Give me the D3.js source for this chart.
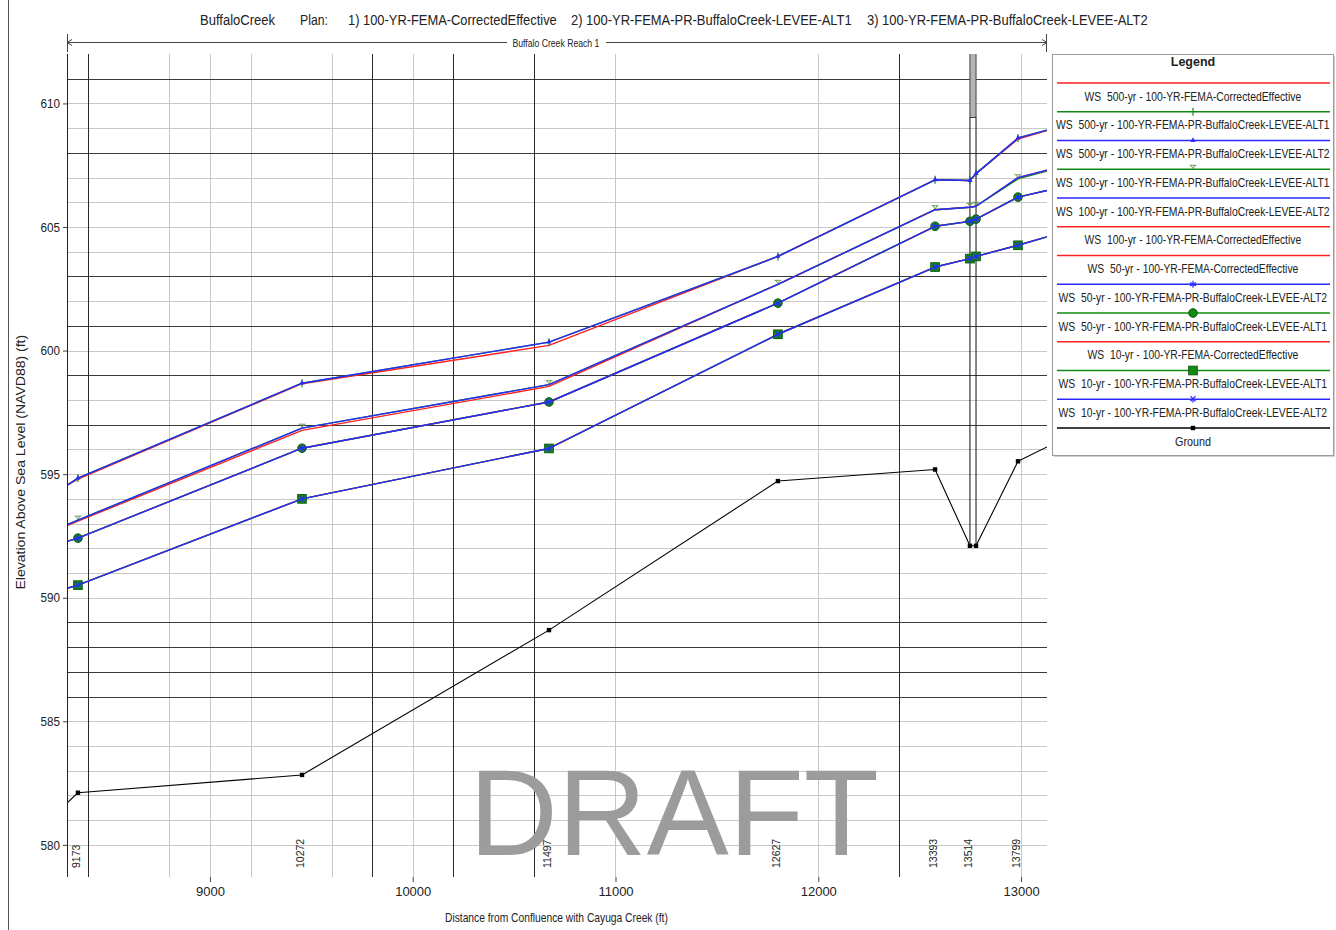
<!DOCTYPE html>
<html><head><meta charset="utf-8">
<script src="https://cdn.jsdelivr.net/npm/d3@7"></script>
<style>
html,body{margin:0;padding:0;background:#fff;}
svg{display:block;font-family:"Liberation Sans",Arial,sans-serif;}
text{white-space:pre;}
</style></head><body>
<svg id="chart" width="1336" height="930"></svg>
<script>
// ---- reach geometry: distance from confluence (ft) for every profile point
// first and last entries are where the reach leaves the plotted window
const profileDist = [8295, 8349, 9454, 10672, 11801, 12576, 12748, 12778, 12985, 13128];
const markedPoints = [1, 2, 3, 4, 5, 6, 7, 8];          // indices that are surveyed cross sections
const stationLabels = ["9173", "10272", "11497", "12627", "13393", "13514", "13799"];
const stationLabelDist = [8349, 9454, 10672, 11801, 12576, 12748, 12985];

// ---- water surface elevations (ft NAVD88)
const ws500Eff  = [594.55, 594.80, 598.66, 600.21, 603.81, 606.91, 606.88, 607.16, 608.56, 608.90];
const ws500Alt1 = [594.55, 594.84, 598.68, 600.34, 603.81, 606.91, 606.88, 607.16, 608.60, 608.92];
const ws500Alt2 = [594.55, 594.84, 598.68, 600.34, 603.81, 606.91, 606.88, 607.16, 608.60, 608.92];
const ws100Eff  = [592.92, 593.10, 596.77, 598.55, 602.68, 605.70, 605.80, 605.84, 607.00, 607.30];
const ws100Alt1 = [592.95, 593.14, 596.86, 598.62, 602.68, 605.70, 605.80, 605.84, 606.95, 607.26];
const ws100Alt2 = [592.95, 593.14, 596.86, 598.62, 602.68, 605.70, 605.80, 605.84, 607.00, 607.30];
const ws50Eff   = [592.28, 592.41, 596.05, 597.92, 601.92, 605.03, 605.23, 605.32, 606.21, 606.48];
const ws50Alt1  = [592.28, 592.41, 596.05, 597.92, 601.92, 605.03, 605.23, 605.32, 606.21, 606.48];
const ws50Alt2  = [592.28, 592.41, 596.05, 597.92, 601.92, 605.03, 605.23, 605.32, 606.21, 606.48];
const ws10Eff   = [590.38, 590.51, 594.00, 596.04, 600.66, 603.38, 603.72, 603.81, 604.26, 604.60];
const ws10Alt1  = [590.38, 590.51, 594.00, 596.04, 600.66, 603.38, 603.72, 603.81, 604.26, 604.60];
const ws10Alt2  = [590.38, 590.51, 594.00, 596.04, 600.66, 603.38, 603.72, 603.81, 604.26, 604.60];
const ground    = [581.69, 582.11, 582.83, 588.69, 594.72, 595.19, 592.10, 592.10, 595.52, 596.10];

// ---- bridge at RS 13514 (two faces), low chord / top of deck
const bridgeFaces = [12748, 12778];
const bridgeLowChord = 609.43;
const bridgeTopDeck = 612.5;

// ---- axes
const xTicks = [9000, 10000, 11000, 12000, 13000];
const yTicks = [580, 585, 590, 595, 600, 605, 610];
const gridElev = d3.range(580, 612);                       // 1-ft grid
const gridElevDark = [611, 608, 603, 601, 599, 597, 589, 588, 587, 586];
const gridDist = [8800, 9000, 9200, 9600, 10000, 11000, 12000, 13000];
const gridDistDark = [8400, 9800, 10200, 10600, 12400];

const planTitles = ["BuffaloCreek", "Plan:", "1) 100-YR-FEMA-CorrectedEffective",
  "2) 100-YR-FEMA-PR-BuffaloCreek-LEVEE-ALT1", "3) 100-YR-FEMA-PR-BuffaloCreek-LEVEE-ALT2"];

// series table (draw order: ground, effective, ALT1, ALT2)
const RED = "#ff2020", GREEN = "#128a12", BLUE = "#2a2aff";
const series = [
  {key:"e500", name:"WS  500-yr - 100-YR-FEMA-CorrectedEffective", values:ws500Eff, color:RED, marker:null},
  {key:"e100", name:"WS  100-yr - 100-YR-FEMA-CorrectedEffective", values:ws100Eff, color:RED, marker:null},
  {key:"e50",  name:"WS  50-yr - 100-YR-FEMA-CorrectedEffective", values:ws50Eff, color:RED, marker:null},
  {key:"e10",  name:"WS  10-yr - 100-YR-FEMA-CorrectedEffective", values:ws10Eff, color:RED, marker:null},
  {key:"a500", name:"WS  500-yr - 100-YR-FEMA-PR-BuffaloCreek-LEVEE-ALT1", values:ws500Alt1, color:GREEN, marker:"vtick"},
  {key:"a100", name:"WS  100-yr - 100-YR-FEMA-PR-BuffaloCreek-LEVEE-ALT1", values:ws100Alt1, color:GREEN, marker:"barv"},
  {key:"a50",  name:"WS  50-yr - 100-YR-FEMA-PR-BuffaloCreek-LEVEE-ALT1", values:ws50Alt1, color:GREEN, marker:"circle"},
  {key:"a10",  name:"WS  10-yr - 100-YR-FEMA-PR-BuffaloCreek-LEVEE-ALT1", values:ws10Alt1, color:GREEN, marker:"square"},
  {key:"b500", name:"WS  500-yr - 100-YR-FEMA-PR-BuffaloCreek-LEVEE-ALT2", values:ws500Alt2, color:BLUE, marker:"tri"},
  {key:"b100", name:"WS  100-yr - 100-YR-FEMA-PR-BuffaloCreek-LEVEE-ALT2", values:ws100Alt2, color:BLUE, marker:null},
  {key:"b50",  name:"WS  50-yr - 100-YR-FEMA-PR-BuffaloCreek-LEVEE-ALT2", values:ws50Alt2, color:BLUE, marker:"star"},
  {key:"b10",  name:"WS  10-yr - 100-YR-FEMA-PR-BuffaloCreek-LEVEE-ALT2", values:ws10Alt2, color:BLUE, marker:"xmark"},
  {key:"gr",   name:"Ground", values:ground, color:"#000", marker:"gsq"}
];
const legendOrder = ["e500","a500","b500","a100","b100","e100","e50","b50","a50","e10","a10","b10","gr"];

// ---- layout
const W = 1336, H = 930;
const P = {left:67, right:1047, top:54, bottom:877};
const svg = d3.select("#chart");
const x = d3.scaleLinear().domain([8295, 13128]).range([P.left, P.right]);
const y = d3.scaleLinear().domain([578.7, 612]).range([P.bottom, P.top]);

// places a text with its own horizontal squeeze so it spans `width` px
function fitText(parent, str, px, py, width, size, anchor, rot) {
  const g = parent.append("g");
  const t = g.append("text").attr("font-size", size).attr("fill", "#222").text(str);
  const natural = t.node().getComputedTextLength();
  const s = width / natural;
  const off = anchor === "middle" ? -width / 2 : 0;
  g.attr("transform", `translate(${px},${py})` + (rot ? ` rotate(${rot})` : "") + ` translate(${off},0) scale(${s},1)`);
  return t;
}

svg.append("rect").attr("width", W).attr("height", H).attr("fill", "#fff");
// page frame at left
svg.append("line").attr("x1", 8.5).attr("x2", 8.5).attr("y1", 0).attr("y2", H)
  .attr("stroke", "#555").attr("stroke-width", 1);

svg.append("clipPath").attr("id", "plotclip").append("rect")
  .attr("x", P.left).attr("y", P.top).attr("width", P.right - P.left).attr("height", P.bottom - P.top);

// grid
const grid = svg.append("g");
grid.selectAll(".hg").data(gridElev.filter(e => !gridElevDark.includes(e))).join("line")
  .attr("x1", P.left).attr("x2", P.right).attr("y1", d => Math.round(y(d)) + 0.5).attr("y2", d => Math.round(y(d)) + 0.5)
  .attr("stroke", "#c8c8c8").attr("stroke-width", 1);
grid.selectAll(".vg").data(gridDist).join("line")
  .attr("y1", P.top).attr("y2", P.bottom).attr("x1", d => Math.round(x(d)) + 0.5).attr("x2", d => Math.round(x(d)) + 0.5)
  .attr("stroke", "#c8c8c8").attr("stroke-width", 1);
grid.selectAll(".hgd").data(gridElevDark).join("line")
  .attr("x1", P.left).attr("x2", P.right).attr("y1", d => Math.round(y(d)) + 0.5).attr("y2", d => Math.round(y(d)) + 0.5)
  .attr("stroke", "#3a3a3a").attr("stroke-width", 1);
grid.selectAll(".vgd").data(gridDistDark).join("line")
  .attr("y1", P.top).attr("y2", P.bottom).attr("x1", d => Math.round(x(d)) + 0.5).attr("x2", d => Math.round(x(d)) + 0.5)
  .attr("stroke", "#2a2a2a").attr("stroke-width", 1);

const plot = svg.append("g").attr("clip-path", "url(#plotclip)");

// bridge deck and faces
const bx0 = x(bridgeFaces[0]), bx1 = x(bridgeFaces[1]);
plot.append("rect").attr("x", bx0).attr("y", y(bridgeTopDeck)).attr("width", bx1 - bx0)
  .attr("height", y(bridgeLowChord) - y(bridgeTopDeck))
  .attr("fill", "#b4b4b4").attr("stroke", "#444").attr("stroke-width", 1);
const bridgeGround = ground[profileDist.indexOf(bridgeFaces[0])];
bridgeFaces.forEach(f => {
  plot.append("line").attr("x1", x(f)).attr("x2", x(f)).attr("y1", y(bridgeLowChord)).attr("y2", y(bridgeGround))
    .attr("stroke", "#111").attr("stroke-width", 1);
});

// marker shapes
function drawMarker(g, type, color) {
  switch (type) {
    case "vtick": g.append("path").attr("d", "M0,-4V4").attr("stroke", color).attr("stroke-width", 1.2); break;
    case "tri": g.append("path").attr("d", "M0,-3.2L2.6,1.4H-2.6Z").attr("fill", color); break;
    case "barv": g.append("path").attr("d", "M-3.5,-4H3.5M-2,-4L0,-0.5L2,-4").attr("fill", "none")
      .attr("stroke", "#6f9a5a").attr("stroke-width", 1); break;
    case "circle": g.append("circle").attr("r", 4.3).attr("fill", color).attr("stroke", "#0b5a0b"); break;
    case "square": g.append("rect").attr("x", -4.3).attr("y", -4.3).attr("width", 8.6).attr("height", 8.6)
      .attr("fill", color).attr("stroke", "#0b5a0b"); break;
    case "star": g.append("path").attr("d", "M0,-3.5V3.5M-3,-1.8L3,1.8M-3,1.8L3,-1.8").attr("stroke", color).attr("stroke-width", 1.2); break;
    case "xmark": g.append("path").attr("d", "M-2.5,-3L2.5,2M-2.5,2L2.5,-3M0,-0.5V3.5").attr("stroke", color).attr("stroke-width", 1.1); break;
    case "gsq": g.append("rect").attr("x", -2.2).attr("y", -2.2).attr("width", 4.4).attr("height", 4.4).attr("fill", color); break;
  }
}

const lineGen = d3.line().x((d, i) => x(profileDist[i])).y(d => y(d));
const drawOrder = ["gr","e500","e100","e50","e10","a500","a100","a50","a10","b500","b100","b50","b10"];
drawOrder.forEach(k => {
  const s = series.find(q => q.key === k);
  plot.append("path").datum(s.values).attr("d", lineGen).attr("fill", "none")
    .attr("stroke", s.color).attr("stroke-width", k === "gr" ? 1.1 : 1.4).attr("stroke-linejoin", "round");
  if (s.marker) {
    markedPoints.forEach(i => {
      const g = plot.append("g").attr("transform", `translate(${x(profileDist[i])},${y(s.values[i])})`);
      drawMarker(g, s.marker, s.color);
    });
  }
});

// axes
const yAxis = svg.append("g").attr("transform", `translate(${P.left},0)`)
  .call(d3.axisLeft(y).tickValues(yTicks).tickSize(4).tickPadding(3).tickSizeOuter(0));
yAxis.select(".domain").attr("stroke", "#222").attr("d", `M0.5,${P.top}V${P.bottom}`);
yAxis.selectAll(".tick line").attr("stroke", "#444");
yAxis.selectAll("text").attr("font-size", 13).attr("fill", "#222")
  .attr("transform", "scale(0.9,1)").attr("x", -7 / 0.9);

const xAxis = svg.append("g").attr("transform", `translate(0,${P.bottom})`)
  .call(d3.axisBottom(x).tickValues(xTicks).tickSize(5).tickPadding(5).tickFormat(d3.format("d")));
xAxis.select(".domain").remove();
xAxis.selectAll(".tick line").attr("stroke", "#444");
xAxis.selectAll("text").attr("font-size", 13).attr("fill", "#222");

// axis titles
fitText(svg, "Elevation Above Sea Level (NAVD88) (ft)", 20, 462, 255, 13, "middle", -90).attr("dy", "0.35em");
fitText(svg, "Distance from Confluence with Cayuga Creek (ft)", 445, 922, 223, 13, "start");

// plan title
const titleX = [200, 300, 348, 571, 867], titleW = [75, 28, 209, 281, 281];
planTitles.forEach((t, i) => fitText(svg, t, titleX[i], 25, titleW[i], 15, "start"));

// reach extent arrow
const reach = svg.append("g").attr("stroke", "#444").attr("fill", "none").attr("stroke-width", 1);
reach.append("line").attr("x1", P.left).attr("x2", P.right).attr("y1", 42.5).attr("y2", 42.5);
reach.append("path").attr("d", `M${P.left + 5},39.5L${P.left},42.5L${P.left + 5},45.5`);
reach.append("path").attr("d", `M${P.right - 5},39.5L${P.right},42.5L${P.right - 5},45.5`);
reach.append("line").attr("x1", P.left + 0.5).attr("x2", P.left + 0.5).attr("y1", 34).attr("y2", 52);
reach.append("line").attr("x1", P.right - 0.5).attr("x2", P.right - 0.5).attr("y1", 34).attr("y2", 52);
svg.append("rect").attr("x", 507).attr("y", 36).attr("width", 99).attr("height", 13).attr("fill", "#fff");
fitText(svg, "Buffalo Creek Reach 1", 556, 46.5, 87, 10.5, "middle");

// watermark
svg.append("text").attr("x", 469).attr("y", 855).attr("font-size", 123)
  .attr("fill", "#9c9c9c").text("DRAFT");

// river station labels
svg.selectAll(".rs").data(stationLabels).join("text")
  .attr("transform", (d, i) => `translate(${x(stationLabelDist[i]) - 2},868) rotate(-90)`)
  .attr("dy", "0.35em").attr("font-size", 10.5).attr("fill", "#222").text(d => d);

// legend
const L = {x:1052, y:54, w:281, h:401, rowTop:83, row:28.75, lx0:1057, lx1:1330, cx:1193};
const lg = svg.append("g");
lg.append("rect").attr("x", L.x + 0.5).attr("y", L.y + 0.5).attr("width", L.w).attr("height", L.h)
  .attr("fill", "#fff").attr("stroke", "#9a9a9a");
lg.append("line").attr("x1", L.x + L.w + 1.5).attr("x2", L.x + L.w + 1.5).attr("y1", L.y + 2).attr("y2", L.y + L.h + 2)
  .attr("stroke", "#d0d0d0");
lg.append("line").attr("x1", L.x + 2).attr("x2", L.x + L.w + 2).attr("y1", L.y + L.h + 1.5).attr("y2", L.y + L.h + 1.5)
  .attr("stroke", "#d0d0d0");
lg.append("text").attr("x", L.cx).attr("y", 66).attr("text-anchor", "middle").attr("font-size", 12.5)
  .attr("font-weight", "bold").attr("fill", "#222").text("Legend");
legendOrder.forEach((k, i) => {
  const s = series.find(q => q.key === k);
  const ly = L.rowTop + i * L.row;
  lg.append("line").attr("x1", L.lx0).attr("x2", L.lx1).attr("y1", ly).attr("y2", ly)
    .attr("stroke", s.color).attr("stroke-width", 1.5);
  if (s.marker) drawMarker(lg.append("g").attr("transform", `translate(${L.cx},${ly})`), s.marker, s.color);
  if (k === "gr") {
    fitText(lg, s.name, L.cx, ly + 17.5, 36, 12.5, "middle");
  } else {
    const isAlt = s.name.includes("LEVEE");
    const big = s.name.includes("500") || s.name.includes("100-yr");
    fitText(lg, s.name, L.cx, ly + 17.5, isAlt ? (big ? 274 : 269) : (big ? 217 : 211), 12.5, "middle");
  }
});
</script>
</body></html>
